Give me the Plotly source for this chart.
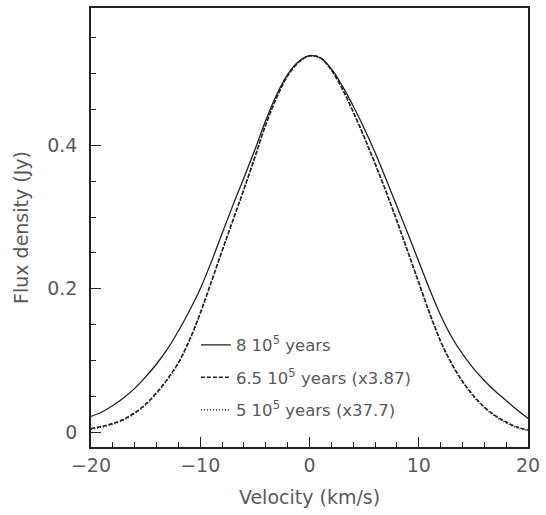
import plotly.graph_objects as go

velocity = list(range(-20, 21))

flux_8e5 = [0.022, 0.028, 0.037, 0.048, 0.061, 0.077, 0.095, 0.116, 0.141, 0.169,
            0.200, 0.237, 0.277, 0.317, 0.355, 0.394, 0.435, 0.471, 0.499, 0.517,
            0.525,
            0.522, 0.507, 0.483, 0.455, 0.424, 0.390, 0.353, 0.315, 0.277, 0.238,
            0.199, 0.163, 0.133, 0.109, 0.089, 0.072, 0.057, 0.044, 0.031, 0.019]

flux_65e5 = [0.005, 0.008, 0.012, 0.018, 0.027, 0.039, 0.055, 0.074, 0.097, 0.128,
             0.166, 0.209, 0.253, 0.296, 0.339, 0.384, 0.429, 0.467, 0.497, 0.516,
             0.525,
             0.522, 0.505, 0.479, 0.447, 0.412, 0.375, 0.336, 0.295, 0.252, 0.209,
             0.166, 0.127, 0.096, 0.071, 0.051, 0.035, 0.023, 0.014, 0.007, 0.003]

flux_5e5 = [0.004, 0.007, 0.011, 0.017, 0.026, 0.038, 0.054, 0.073, 0.096, 0.127,
            0.165, 0.208, 0.252, 0.295, 0.338, 0.383, 0.429, 0.467, 0.497, 0.516,
            0.525,
            0.522, 0.505, 0.479, 0.446, 0.411, 0.374, 0.335, 0.294, 0.251, 0.208,
            0.165, 0.126, 0.095, 0.070, 0.050, 0.034, 0.022, 0.013, 0.006, 0.002]

names = ["8 10<sup>5</sup> years",
         "6.5 10<sup>5</sup> years (x3.87)",
         "5 10<sup>5</sup> years (x37.7)"]

x_ticks = [-20, -10, 0, 10, 20]
x_ticklabels = ["\u221220", "\u221210", "0", "10", "20"]
y_ticks = [0, 0.2, 0.4]
y_ticklabels = ["0", "0.2", "0.4"]

line_color = "#222222"
text_color = "#5a5a5a"
font_family = "'DejaVu Sans', sans-serif"

fig = go.Figure()
styles = ["solid", "4px,2px", "1px,2px"]
widths = [1.3, 1.6, 1.6]
for i, (ys, name) in enumerate(zip([flux_8e5, flux_65e5, flux_5e5], names)):
    fig.add_trace(go.Scatter(
        x=velocity, y=ys, mode="lines", name=name,
        line=dict(color=line_color, width=widths[i], dash=styles[i], shape="spline", smoothing=1.0),
        legendgroup=f"g{i}",
    ))

fig.update_layout(
    width=546, height=515,
    margin=dict(l=91, r=15, t=6, b=68),
    paper_bgcolor="white", plot_bgcolor="white",
    font=dict(family=font_family, color=text_color, size=18),
    showlegend=True,
    legend=dict(
        x=0.24, y=0.272, xanchor="left", yanchor="top",
        bgcolor="rgba(0,0,0,0)", borderwidth=0,
        font=dict(size=16.5, color=text_color, family=font_family),
        traceorder="grouped", tracegroupgap=8, itemwidth=30,
    ),
    xaxis=dict(
        range=[-20, 20], tickmode="array", tickvals=x_ticks, ticktext=x_ticklabels,
        ticks="inside", ticklen=10, tickwidth=1, tickcolor=line_color,
        showline=True, linecolor=line_color, linewidth=1.5, mirror=True,
        showgrid=False, zeroline=False,
        minor=dict(dtick=2, tick0=0, ticks="inside", ticklen=5, tickcolor=line_color, showgrid=False),
        title=dict(text="Velocity (km/s)", font=dict(size=19, color=text_color), standoff=16),
        tickfont=dict(size=19, color=text_color),
    ),
    yaxis=dict(
        range=[-0.0208, 0.5917], tickmode="array", tickvals=y_ticks, ticktext=y_ticklabels,
        ticks="inside", ticklen=10, tickwidth=1, tickcolor=line_color,
        showline=True, linecolor=line_color, linewidth=1.5, mirror=True,
        showgrid=False, zeroline=False, ticklabelstandoff=8,
        minor=dict(dtick=0.05, tick0=0, ticks="inside", ticklen=5, tickcolor=line_color, showgrid=False),
        title=dict(text="Flux density (Jy)", font=dict(size=19, color=text_color), standoff=14),
        tickfont=dict(size=19, color=text_color),
    ),
)

fig.write_html("out.html", config={"displayModeBar": False},
               post_script="document.body.style.margin='0';document.body.style.padding='0';")
